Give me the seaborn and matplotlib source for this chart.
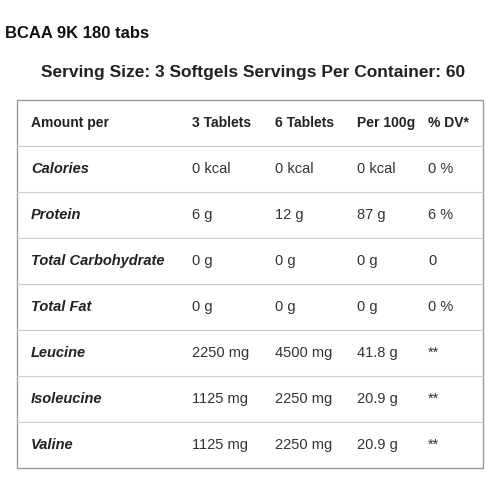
import matplotlib
matplotlib.use("Agg")
import matplotlib.pyplot as plt
import seaborn as sns

sns.set_style("white")
plt.rcParams['font.family'] = ['Liberation Sans', 'DejaVu Sans']

title = "BCAA 9K 180 tabs"
subtitle = "Serving Size: 3 Softgels Servings Per Container: 60"
headers = ["Amount per", "3 Tablets", "6 Tablets", "Per 100g", "% DV*"]
nutrients = ["Calories", "Protein", "Total Carbohydrate", "Total Fat", "Leucine", "Isoleucine", "Valine"]
col_3tab = ["0 kcal", "6 g", "0 g", "0 g", "2250 mg", "1125 mg", "1125 mg"]
col_6tab = ["0 kcal", "12 g", "0 g", "0 g", "4500 mg", "2250 mg", "2250 mg"]
col_100g = ["0 kcal", "87 g", "0 g", "0 g", "41.8 g", "20.9 g", "20.9 g"]
col_dv = ["0 %", "6 %", "0", "0 %", "**", "**", "**"]

fig = plt.figure(figsize=(5, 5), dpi=100)
ax = fig.add_axes([0, 0, 1, 1])
ax.set_xlim(0, 500); ax.set_ylim(500, 0); ax.axis("off")

ax.text(5, 33, title, fontsize=12, fontweight="bold", va="center", color="#111111")
ax.text(253, 73, subtitle, fontsize=12.5, fontweight="bold", va="center", ha="center", color="#222222")

top, bot, left, right = 100, 468, 17, 483
ax.plot([left, right, right, left, left], [top, top, bot, bot, top], color="#999999", lw=1)
rowh = (bot - top) / 8
for i in range(1, 8):
    y = top + i * rowh
    ax.plot([left, right], [y, y], color="#cccccc", lw=0.8)

colx = [31, 192, 275, 357, 428]
fs = 10.5
yc = top + rowh / 2
for x, h in zip(colx, headers):
    ax.text(x, yc, h, fontsize=fs - 0.5, fontweight="bold", va="center", color="#222222")
for r, name in enumerate(nutrients):
    y = top + (r + 1.5) * rowh
    ax.text(colx[0], y, name, fontsize=fs, fontweight="bold", style="italic", va="center", color="#222222")
    for x, v in zip(colx[1:], [col_3tab[r], col_6tab[r], col_100g[r], col_dv[r]]):
        ax.text(x, y, v, fontsize=fs, va="center", color="#333333")

fig.savefig("out.png", dpi=100)
